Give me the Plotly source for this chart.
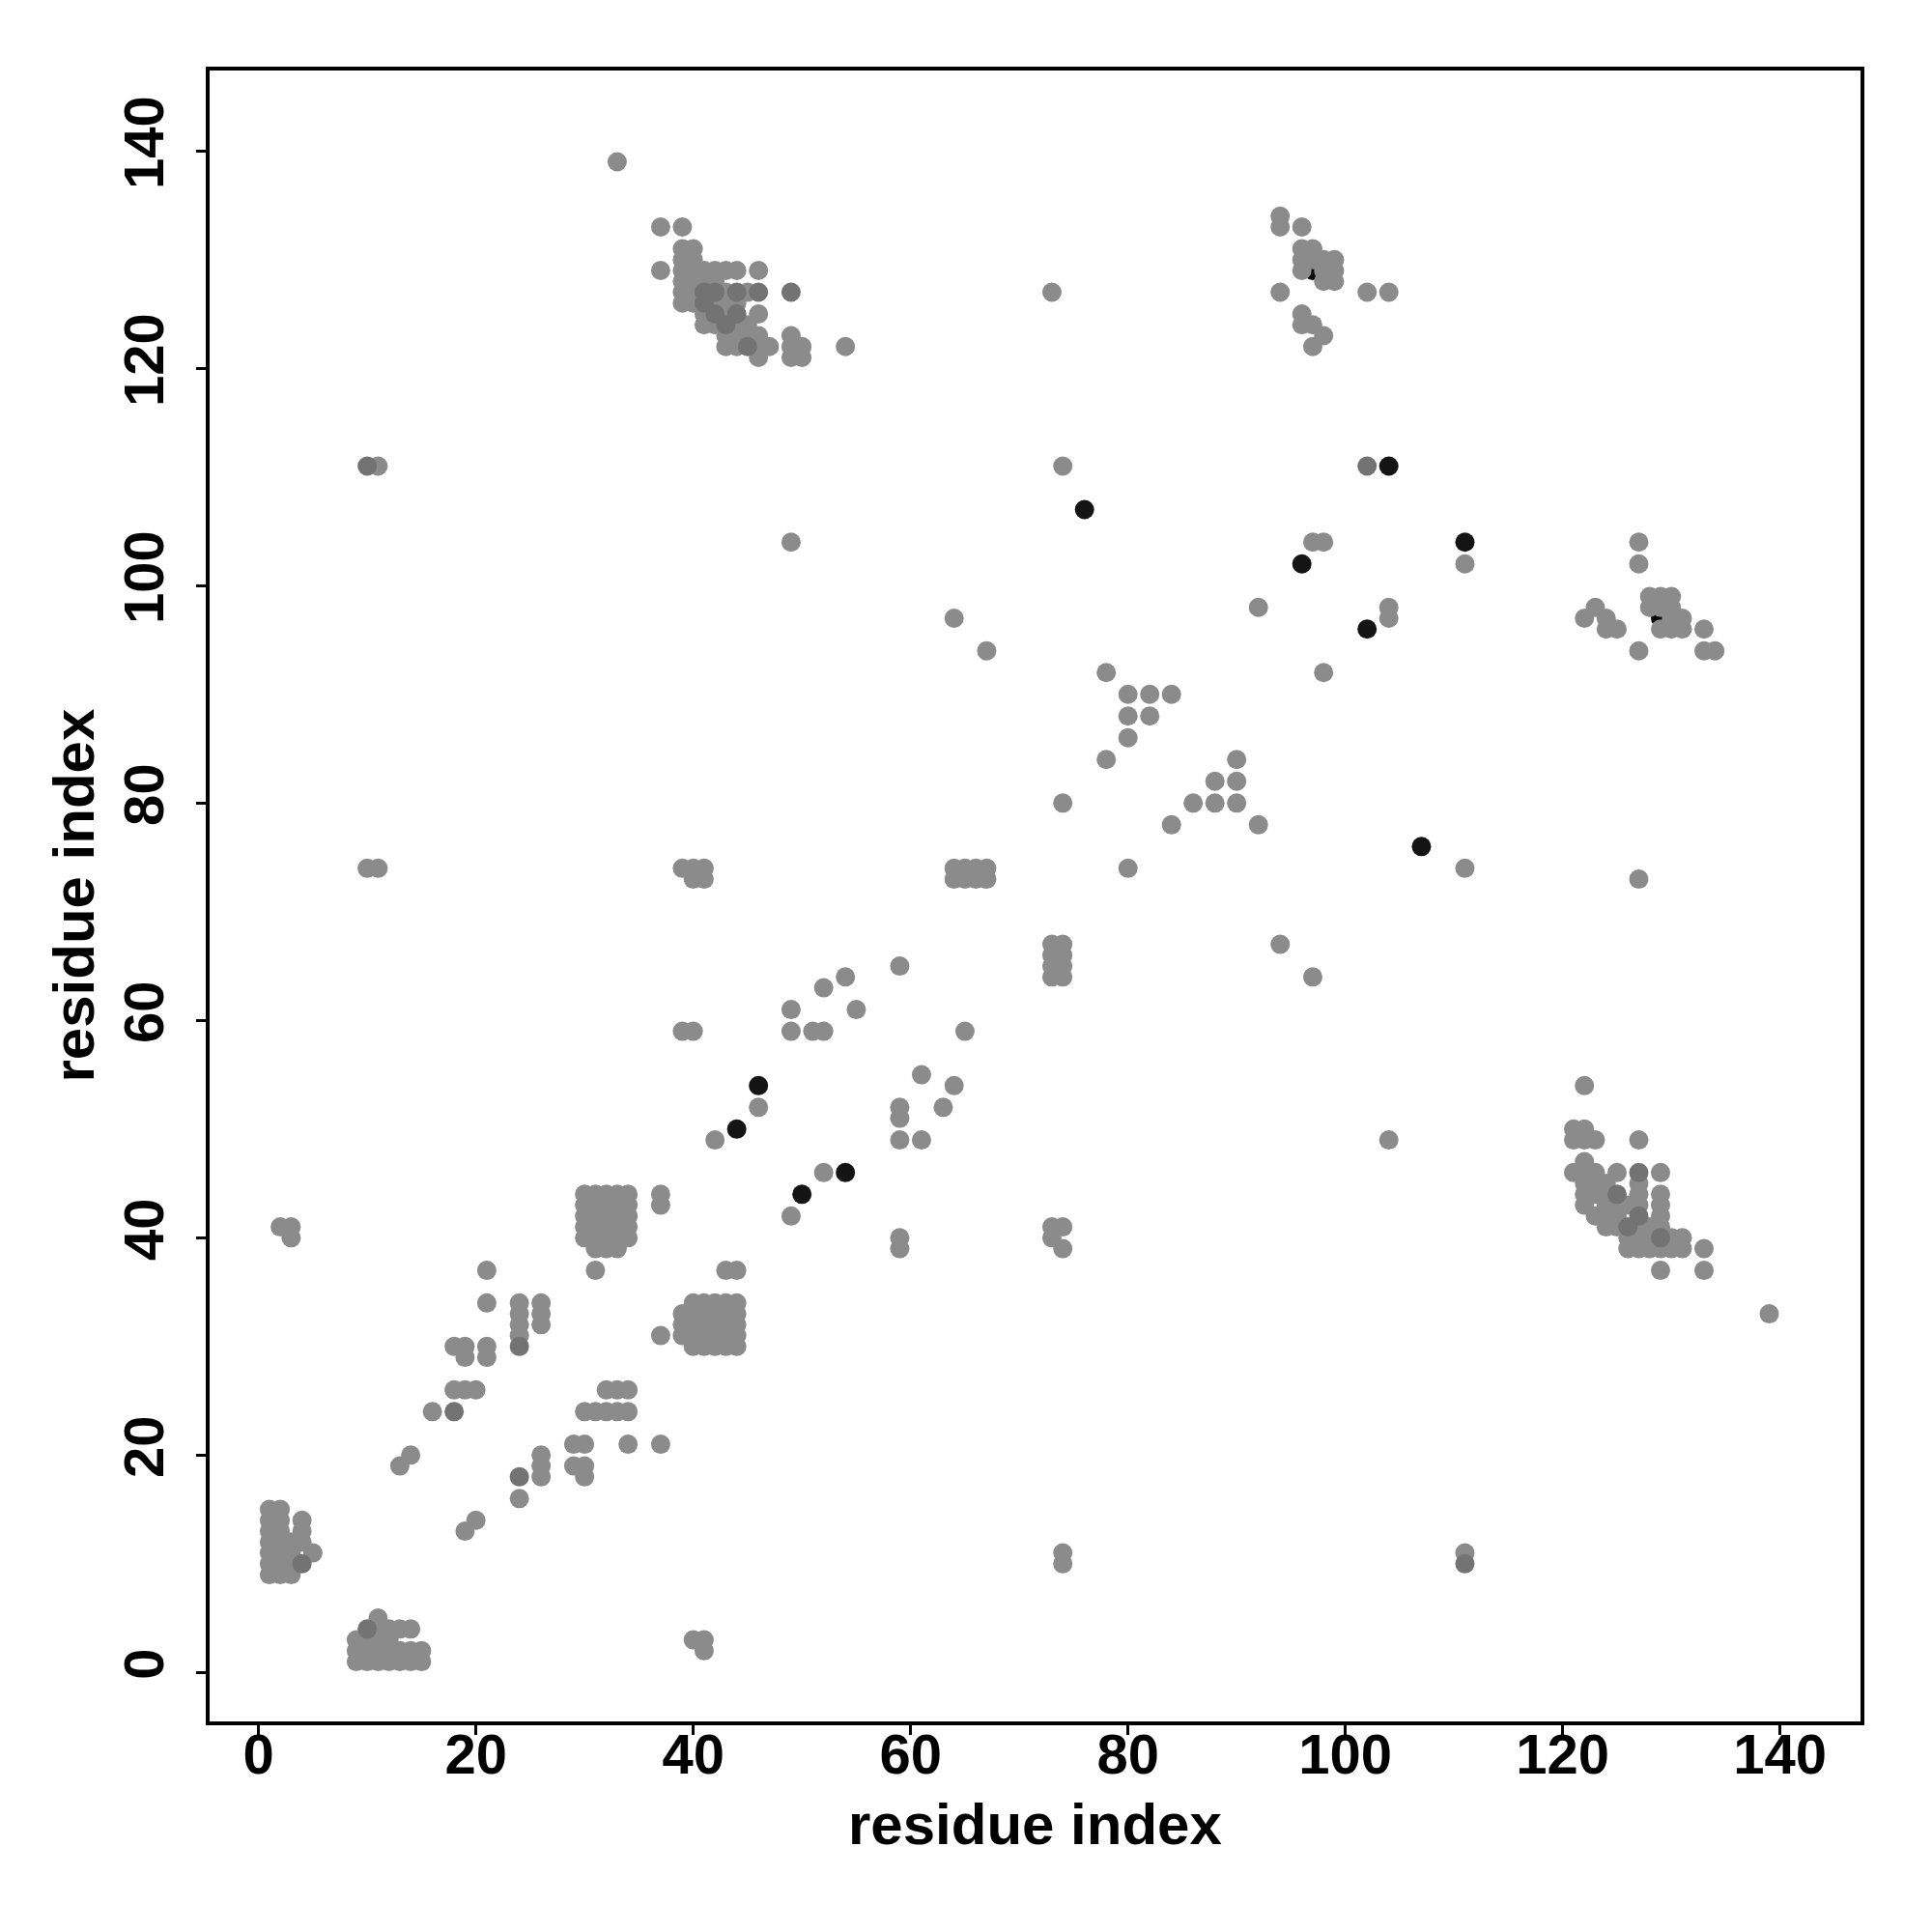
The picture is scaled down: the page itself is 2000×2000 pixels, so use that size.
import plotly.graph_objects as go

# ---- data: (residue i, residue j) contact pairs ----
# regular grey contacts
top_left_cluster = [
    (33, 139),
    (37, 133), (39, 133),
    (39, 131), (40, 131),
    (39, 130), (40, 130),
    (37, 129), (39, 129), (40, 129), (41, 129), (42, 129), (43, 129), (44, 129), (46, 129),
    (39, 128), (40, 128), (41, 128), (42, 128),
    (39, 127), (40, 127), (43, 127), (45, 127),
    (39, 126), (40, 126), (42, 126), (43, 126), (44, 126),
    (41, 125), (43, 125), (46, 125),
    (41, 124), (42, 124), (44, 124), (45, 124),
    (43, 123), (44, 123), (45, 123), (46, 123), (49, 123),
    (43, 122), (44, 122), (46, 122), (47, 122), (49, 122), (50, 122), (54, 122),
    (46, 121), (49, 121), (50, 121),
]
top_right_cluster = [
    (94, 134), (94, 133), (96, 133),
    (96, 131), (97, 131), (96, 130), (97, 130), (98, 130), (99, 130),
    (96, 129), (98, 129), (99, 129), (98, 128), (99, 128),
    (94, 127), (102, 127), (104, 127),
    (96, 125), (96, 124), (97, 124), (98, 123), (97, 122),
]
right_mid_cluster = [
    (127, 104), (127, 102),
    (123, 98), (122, 97), (124, 97), (124, 96), (125, 96),
    (127, 94),
    (128, 99), (129, 99), (130, 99), (128, 98), (129, 98), (130, 98),
    (130, 97), (131, 97), (129, 96), (130, 96), (131, 96),
    (133, 96), (133, 94), (134, 94),
]
bottom_right_cluster = [
    (122, 54),
    (121, 50), (122, 50), (121, 49), (122, 49), (123, 49), (127, 49),
    (122, 47),
    (121, 46), (122, 46), (123, 46), (125, 46), (129, 46),
    (122, 45), (123, 45), (124, 45), (127, 45),
    (122, 44), (123, 44), (124, 44), (127, 44), (129, 44),
    (122, 43), (124, 43), (125, 43), (126, 43), (127, 43), (129, 43),
    (123, 42), (124, 42), (125, 42), (129, 42),
    (124, 41), (125, 41), (127, 41), (128, 41), (129, 41),
    (126, 40), (127, 40), (128, 40), (130, 40), (131, 40),
    (126, 39), (127, 39), (128, 39), (129, 39), (130, 39), (131, 39), (133, 39),
    (129, 37), (133, 37),
    (139, 33),
]
helix_start_clusters = [
    (1, 15), (2, 15), (1, 14), (2, 14), (4, 14), (1, 13), (2, 13), (4, 13),
    (1, 12), (2, 12), (3, 12), (4, 12), (1, 11), (2, 11), (3, 11), (5, 11),
    (1, 10), (2, 10), (3, 10), (1, 9), (2, 9), (3, 9),
    (11, 5), (11, 4), (12, 4), (13, 4), (14, 4),
    (9, 3), (10, 3), (11, 3), (12, 3),
    (9, 2), (10, 2), (11, 2), (12, 2), (13, 2), (14, 2), (15, 2),
    (9, 1), (10, 1), (11, 1), (12, 1), (13, 1), (14, 1), (15, 1),
]
middle_blocks = [
    (30, 44), (31, 44), (32, 44), (33, 44), (34, 44),
    (30, 43), (31, 43), (32, 43), (33, 43), (34, 43),
    (30, 42), (31, 42), (32, 42), (33, 42), (34, 42),
    (30, 41), (31, 41), (32, 41), (33, 41), (34, 41),
    (30, 40), (31, 40), (32, 40), (33, 40), (34, 40),
    (31, 39), (32, 39), (33, 39),
    (40, 34), (41, 34), (42, 34), (43, 34), (44, 34),
    (39, 33), (40, 33), (41, 33), (42, 33), (43, 33), (44, 33),
    (39, 32), (40, 32), (41, 32), (42, 32), (43, 32), (44, 32),
    (39, 31), (40, 31), (41, 31), (42, 31), (43, 31), (44, 31),
    (40, 30), (41, 30), (42, 30), (43, 30), (44, 30),
    (37, 44), (37, 43), (31, 37), (43, 37), (44, 37), (37, 31),
]
lower_diagonal = [
    (24, 34), (24, 33), (24, 32), (24, 31),
    (26, 34), (26, 33), (26, 32),
    (21, 37), (21, 34),
    (18, 30), (19, 30), (19, 29), (21, 30), (21, 29),
    (18, 26), (19, 26), (20, 26),
    (16, 24),
    (32, 26), (33, 26), (34, 26),
    (30, 24), (31, 24), (32, 24), (33, 24), (34, 24),
    (29, 21), (30, 21), (34, 21), (37, 21),
    (14, 20), (26, 20),
    (13, 19), (26, 19), (29, 19), (30, 19),
    (26, 18), (30, 18),
    (24, 16),
    (20, 14), (19, 13),
    (2, 41), (3, 41), (3, 40),
    (40, 3), (41, 3), (41, 2),
]
scattered = [
    (11, 111), (10, 74), (11, 74),
    (39, 74), (40, 74), (41, 74), (40, 73), (41, 73),
    (39, 59), (40, 59),
    (42, 49),
    (49, 61), (49, 59), (51, 59), (52, 59), (52, 63), (54, 64), (55, 61),
    (46, 52), (52, 46), (49, 42),
    (59, 65), (65, 59),
    (61, 55), (64, 54),
    (59, 52), (59, 51), (59, 49), (61, 49), (63, 52),
    (59, 40), (59, 39),
    (64, 74), (65, 74), (66, 74), (67, 74), (64, 73), (65, 73), (66, 73), (67, 73),
    (73, 67), (74, 67), (73, 66), (74, 66), (73, 65), (74, 65), (73, 64), (74, 64),
    (73, 41), (74, 41), (73, 40), (74, 39),
    (74, 11), (74, 10), (111, 11),
    (74, 111), (73, 127), (49, 104),
    (64, 97), (67, 94),
    (78, 92), (80, 90), (82, 90), (84, 90), (80, 88), (82, 88), (80, 86), (78, 84),
    (74, 80), (80, 74),
    (90, 84), (88, 82), (90, 82), (86, 80), (88, 80), (90, 80), (84, 78), (92, 78),
    (94, 67), (97, 64),
    (92, 98), (98, 92),
    (97, 104), (98, 104),
    (104, 98), (104, 97),
    (111, 102), (111, 74),
    (127, 73), (104, 49),
]

# darker grey contacts
dark_contacts = [
    (10, 111), (102, 111), (4, 10), (10, 4), (24, 30), (24, 18), (18, 24), (111, 10),
    (41, 127), (42, 127), (44, 127), (46, 127), (49, 127),
    (41, 126), (42, 125), (44, 125), (43, 124), (45, 122),
    (127, 46), (125, 44), (127, 42), (126, 41), (129, 40),
]

# black contacts (the first two lie inside clusters, partly covered by grey ones)
black_contacts_under = [(97, 129), (129, 97)]
black_contacts = [
    (76, 107), (107, 76), (104, 111), (111, 104), (96, 102), (102, 96),
    (46, 54), (54, 46), (44, 50), (50, 44),
]

axis_ticks = [0, 20, 40, 60, 80, 100, 120, 140]
axis_title = "residue index"

grey_contacts = (top_left_cluster + top_right_cluster + right_mid_cluster
                 + bottom_right_cluster + helix_start_clusters + middle_blocks
                 + lower_diagonal + scattered)

FONT = "Liberation Sans"

fig = go.Figure()
for pts, col in [(black_contacts_under, "#0a0a0a"),
                 (grey_contacts, "#8b8b8b"),
                 (dark_contacts, "#737373"),
                 (black_contacts, "#141414")]:
    fig.add_trace(go.Scatter(
        x=[p[0] for p in pts], y=[p[1] for p in pts],
        mode="markers",
        marker=dict(size=20, color=col, line=dict(width=0)),
        showlegend=False,
    ))

axis_common = dict(
    range=[-4.5, 147.4],
    tickvals=axis_ticks,
    ticktext=[str(t) for t in axis_ticks],
    ticks="outside", ticklen=10, tickwidth=3, tickcolor="black",
    showline=True, linewidth=4, linecolor="black", mirror=True,
    showgrid=False, zeroline=False,
    tickfont=dict(family=FONT, size=58, color="black", weight="bold"),
)
fig.update_xaxes(**axis_common, ticklabelstandoff=-30)
fig.update_yaxes(**axis_common, tickangle=-90, ticklabelstandoff=11)

fig.update_layout(
    width=2000, height=2000,
    margin=dict(l=209, r=82, t=65, b=226),
    paper_bgcolor="white", plot_bgcolor="white",
    font=dict(family=FONT, color="black"),
    annotations=[
        dict(text=axis_title, xref="paper", yref="paper", x=0.5, y=0,
             xanchor="center", yanchor="middle", yshift=-106, showarrow=False,
             font=dict(family=FONT, size=60, color="black", weight="bold")),
        dict(text=axis_title, xref="paper", yref="paper", x=0, y=0.5,
             xanchor="center", yanchor="middle", xshift=-141, textangle=-90,
             showarrow=False,
             font=dict(family=FONT, size=60, color="black", weight="bold")),
    ],
)

fig.write_html("out.html")
